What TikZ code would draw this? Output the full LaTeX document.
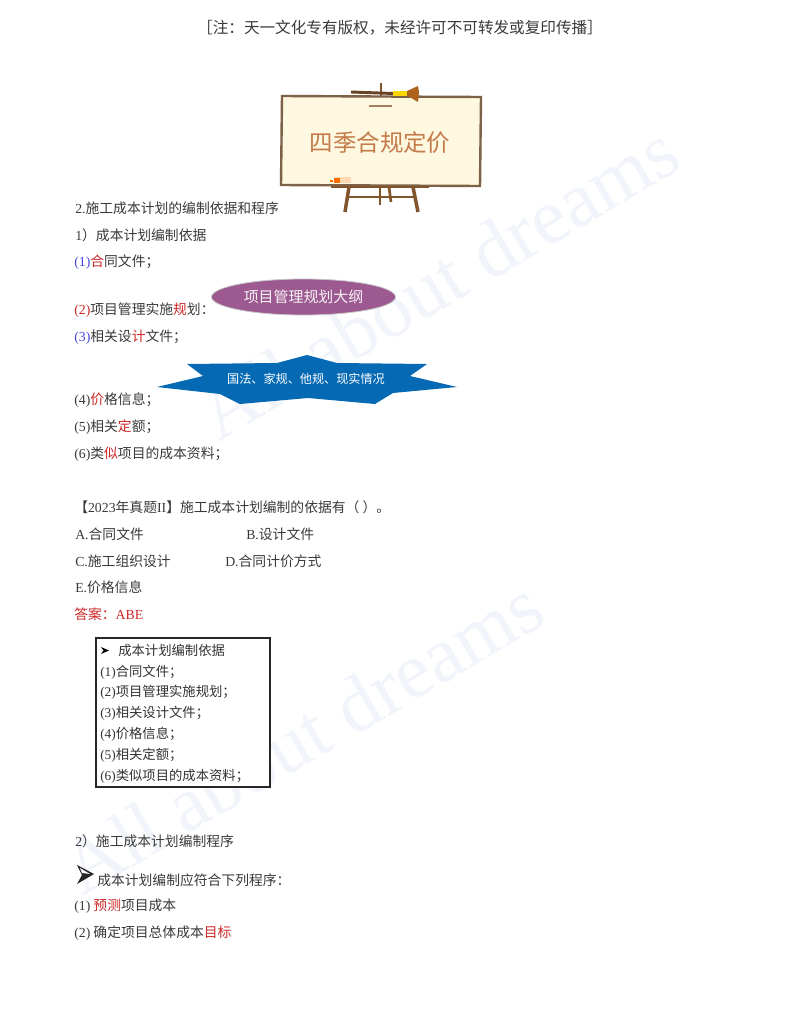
\documentclass[tikz,border=0pt]{standalone}
\usepackage{fontspec}
\setmainfont{Liberation Serif}
\newfontfamily\cjk{Noto Sans CJK SC}
\usetikzlibrary{shapes.geometric}
\definecolor{wm}{RGB}{241,244,251}
\definecolor{txt}{RGB}{58,58,58}
\definecolor{redt}{RGB}{205,40,40}
\definecolor{bluet}{RGB}{70,70,225}
\definecolor{board}{RGB}{255,248,224}
\definecolor{frameb}{RGB}{125,98,72}
\definecolor{wood}{RGB}{130,84,44}
\definecolor{ttl}{RGB}{196,122,74}
\definecolor{oval}{RGB}{157,90,145}
\definecolor{star}{RGB}{5,105,180}
\tikzset{
 line/.style={anchor=west,inner sep=0pt,text=txt,font=\fontsize{10.35pt}{12pt}\selectfont\cjk},
 boxline/.style={anchor=west,inner sep=0pt,text=black!80,font=\fontsize{10pt}{12pt}\selectfont\cjk},
 wmark/.style={text=wm,inner sep=0pt,anchor=base west,font=\fontsize{59pt}{59pt}\selectfont}
}
\newcommand{\R}[1]{\textcolor{redt}{#1}}
\newcommand{\B}[1]{\textcolor{bluet}{#1}}
\newcommand{\T}[1]{{\rmfamily #1}}
\begin{document}
\begin{tikzpicture}[x=0.75pt,y=-0.75pt]
\useasboundingbox (0,0) rectangle (800,1035);
\fill[white] (0,0) rectangle (800,1035);
% watermarks
\node[wmark,rotate=30.6] (wm1) at (218,443) {All about dreams};
\node[wmark,rotate=30.5] (wm2) at (82,897) {All about dreams};
% header
\node[inner sep=0pt,text=txt,font=\fontsize{11.7pt}{13pt}\selectfont\cjk] (hdr) at (400,28) {［注：天一文化专有版权，未经许可不可转发或复印传播］};
% easel
\draw[wood,line width=2pt] (381,83) -- (381,98);
\draw[wood,line width=2.6pt] (349,187) -- (345,212);
\draw[wood,line width=2.6pt] (413,187) -- (418,212);
\draw[wood,line width=2pt] (348,197) -- (415,197);
\draw[wood,line width=2.2pt] (380,187) -- (380,205);
\draw[wood,line width=2pt] (389,187) -- (391,202);
\draw[draw=frameb,fill=board,line width=1.8pt] (282,96) -- (481,97) -- (480,186) -- (281,185) -- cycle;
\draw[wood,line width=1.5pt] (331,186.5) -- (429,186.5);
\draw[wood!80!black,line width=2.2pt] (351,92) -- (393,93.5);
\fill[yellow!75!orange] (393,90.5) rectangle (407,95.5);
\fill[wood!65!orange] (407,91) -- (418,86) -- (419,92) -- (418,102) -- (407,95.5) -- cycle;
\draw[wood!75!white,line width=1.5pt] (369,105.5) -- (392,105.5);
\fill[orange!30] (334,177) rectangle (351,183);
\fill[orange!85!red] (334,178) rectangle (340,183);
\fill[orange!85!red] (330,179.5) rectangle (333,181.5);
\node[inner sep=0pt,text=ttl,font=\fontsize{17.6pt}{20pt}\selectfont\cjk] (title) at (380,143) {四季合规定价};
% body
\node[line] (l1) at (75,208) {\T{2.}施工成本计划的编制依据和程序};
\node[line] (l2) at (75,235) {\T{1}）成本计划编制依据};
\node[line] (l3) at (74,262) {\B{\T{(1)}}\R{合}同文件；};
\node[line] (l4) at (74,310) {\R{\T{(2)}}项目管理实施\R{规}划：};
\node[line] (l5) at (74,337) {\B{\T{(3)}}相关设\R{计}文件；};
\node[line] (l6) at (74,400) {\T{(4)}\R{价}格信息；};
\node[line] (l7) at (74,427) {\T{(5)}相关\R{定}额；};
\node[line] (l8) at (74,454) {\T{(6)}类\R{似}项目的成本资料；};
\node[line] (q0) at (74,507) {【\T{2023}年真题\T{II}】施工成本计划编制的依据有（ ）。};
\node[line] (qa) at (75,534) {\T{A.}合同文件};
\node[line] (qb) at (246,534) {\T{B.}设计文件};
\node[line] (qc) at (75,561) {\T{C.}施工组织设计};
\node[line] (qd) at (225,561) {\T{D.}合同计价方式};
\node[line] (qe) at (75,587) {\T{E.}价格信息};
\node[line] (ans) at (74,614) {\R{答案：\T{ABE}}};
% oval
\node[ellipse,draw=gray!45,fill=oval,line width=0.6pt,minimum width=138pt,minimum height=27pt,inner sep=0pt,text=white!92!oval,font=\fontsize{11.2pt}{13pt}\selectfont\cjk] (ov) at (303.5,297) {项目管理规划大纲};
% star
\fill[star] (157,387) -- (203,376) -- (187,364) -- (277,363) -- (307,355) -- (337,363) -- (427,364) -- (410,376) -- (457,387) -- (393,393) -- (375,404) -- (308,398) -- (240,404) -- (220,394) -- cycle;
\node[inner sep=0pt,text=white,font=\fontsize{9.1pt}{11pt}\selectfont\cjk] (st) at (306,379) {国法、家规、他规、现实情况};
% box
\draw[draw=black!85,line width=1.1pt,fill=white] (96,638) rectangle (270,787);
\fill[black] (101,647) -- (109,650.5) -- (101,654) -- (103.5,650.5) -- cycle;
\node[boxline] (b0) at (118,650) {成本计划编制依据};
\node[boxline] (b1) at (100,672) {\T{(1)}合同文件；};
\node[boxline] (b2) at (100,692) {\T{(2)}项目管理实施规划；};
\node[boxline] (b3) at (100,713) {\T{(3)}相关设计文件；};
\node[boxline] (b4) at (100,734) {\T{(4)}价格信息；};
\node[boxline] (b5) at (100,755) {\T{(5)}相关定额；};
\node[boxline] (b6) at (100,776) {\T{(6)}类似项目的成本资料；};
% lower
\node[line] (p0) at (75,841) {\T{2}）施工成本计划编制程序};
\fill[black!85] (77,865) -- (94,874) -- (77,884) -- (82,875) -- cycle;
\fill[white] (80,868) -- (90,874) -- (82,873) -- cycle;
\node[line] (p1) at (97,880) {成本计划编制应符合下列程序：};
\node[line] (p2) at (74,906) {\T{(1)} \R{预测}项目成本};
\node[line] (p3) at (74,933) {\T{(2)} 确定项目总体成本\R{目标}};
\end{tikzpicture}
\end{document}
